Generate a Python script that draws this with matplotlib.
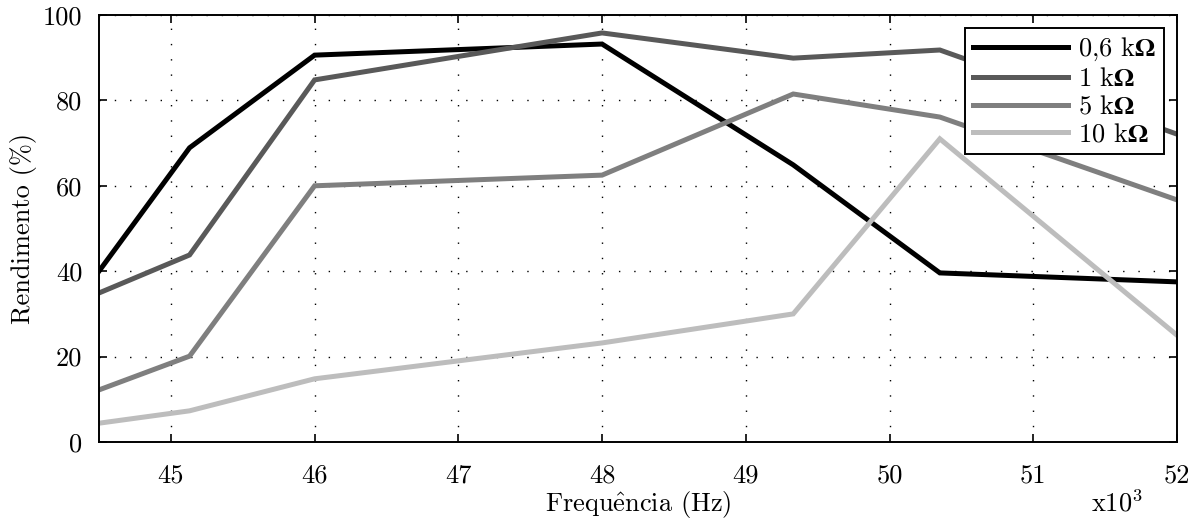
import matplotlib
matplotlib.use("Agg")
import matplotlib.pyplot as plt

plt.rcParams["font.family"] = "serif"
plt.rcParams["font.serif"] = ["cmr10", "DejaVu Serif"]
plt.rcParams["mathtext.fontset"] = "custom"
plt.rcParams["mathtext.rm"] = "cmr10"
plt.rcParams["mathtext.it"] = "cmmi10"
plt.rcParams["mathtext.bf"] = "STIXGeneral:bold"
plt.rcParams["axes.formatter.use_mathtext"] = True

# Frequency points (kHz) and efficiency for each load
freq = [44.5, 45.13, 46.0, 48.0, 49.33, 50.35, 52.0]
eff_0k6 = [40.0, 68.9, 90.6, 93.2, 64.9, 39.6, 37.5]
eff_1k = [34.9, 43.8, 84.8, 95.8, 89.9, 91.8, 72.1]
eff_5k = [12.2, 20.1, 60.0, 62.5, 81.5, 76.1, 56.7]
eff_10k = [4.4, 7.3, 14.8, 23.2, 30.0, 71.0, 25.0]

labels = [r"0,6 k$\mathbf{\Omega}$", r"1 k$\mathbf{\Omega}$",
          r"5 k$\mathbf{\Omega}$", r"10 k$\mathbf{\Omega}$"]
series = [eff_0k6, eff_1k, eff_5k, eff_10k]
colors = ["#000000", "#595959", "#7f7f7f", "#bdbdbd"]

xticks = [45, 46, 47, 48, 49, 50, 51, 52]
yticks = [0, 20, 40, 60, 80, 100]

fig = plt.figure(figsize=(11.88, 5.22), dpi=100)
ax = fig.add_axes([99 / 1188, 1 - 442 / 522, (1177 - 99) / 1188, (442 - 15) / 522])

for ys, c, lab in zip(series, colors, labels):
    ax.plot(freq, ys, color=c, lw=3.6, label=lab, solid_joinstyle="miter")

ax.set_xlim(44.5, 52)
ax.set_ylim(0, 100)
ax.set_xticks(xticks)
ax.set_yticks(yticks)
ax.set_xticklabels([str(t) for t in xticks])
ax.set_yticklabels([str(t) for t in yticks])
ax.tick_params(direction="in", length=6, width=1.2, labelsize=19,
               top=True, right=True)
ax.tick_params(axis="x", pad=16)
ax.tick_params(axis="y", pad=12)
ax.grid(True, color="black", linestyle=(0, (1, 10)), linewidth=1.0)
for s in ax.spines.values():
    s.set_linewidth(1.4)

ax.set_xlabel(r"Frequ$\hat{\mathrm{e}}$ncia (Hz)", fontsize=19, labelpad=1)
ax.set_ylabel("Rendimento (%)", fontsize=19, labelpad=4)
fig.text(1117 / 1188, 1 - 503 / 522, r"x10$^3$", fontsize=19, ha="center", va="center")

leg = ax.legend(loc="upper right", fontsize=19, frameon=True, fancybox=False,
                edgecolor="black", framealpha=1, handlelength=3.6,
                borderpad=0.3, labelspacing=0.15, handletextpad=0.4,
                borderaxespad=0.5)
leg.get_frame().set_linewidth(1.4)

fig.savefig("out.png", dpi=100)
